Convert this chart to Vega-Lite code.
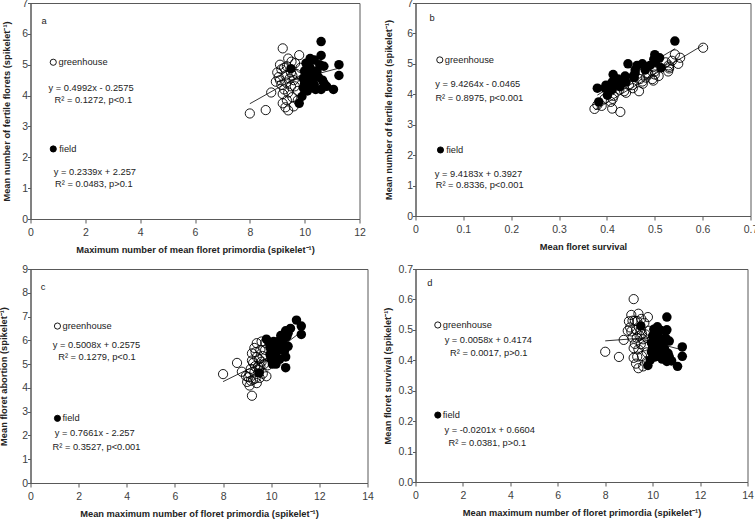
{
  "$schema": "https://vega.github.io/schema/vega-lite/v6.json",
  "padding": {"left": -1.5, "top": -3, "right": 0, "bottom": 0},
  "background": "white",
  "config": {
    "font": "Liberation Sans",
    "view": {"stroke": "#595959", "strokeWidth": 1},
    "axis": {"grid": false, "domainColor": "#595959", "tickColor": "#595959", "tickSize": 4, "labelOverlap": false, "labelFlush": false, "labelBound": false, "labelFont": "Liberation Sans", "labelFontSize": 10.5, "labelColor": "#404040", "titleFont": "Liberation Sans", "titleFontSize": 9.3, "titleFontWeight": "bold", "titleColor": "#222222"},
    "axisX": {"titlePadding": 8, "labelPadding": 4},
    "axisY": {"titlePadding": 10, "labelPadding": 0, "tickSize": 3},
    "text": {"font": "Liberation Sans", "fontSize": 9.3, "fill": "#222222"}
  },
  "datasets": {
    "samples": [
      {"g": "greenhouse", "P": 8.0, "F": 3.42, "A": 4.58, "S": 0.428},
      {"g": "greenhouse", "P": 8.58, "F": 3.53, "A": 5.05, "S": 0.411},
      {"g": "greenhouse", "P": 8.78, "F": 4.1, "A": 4.68, "S": 0.467},
      {"g": "greenhouse", "P": 9.2, "F": 5.53, "A": 3.67, "S": 0.601},
      {"g": "greenhouse", "P": 9.8, "F": 5.31, "A": 4.49, "S": 0.542},
      {"g": "greenhouse", "P": 9.52, "F": 5.1, "A": 4.42, "S": 0.536},
      {"g": "greenhouse", "P": 9.1, "F": 5.0, "A": 4.1, "S": 0.549},
      {"g": "greenhouse", "P": 9.35, "F": 4.95, "A": 4.4, "S": 0.529},
      {"g": "greenhouse", "P": 9.0, "F": 4.75, "A": 4.25, "S": 0.528},
      {"g": "greenhouse", "P": 9.05, "F": 4.6, "A": 4.45, "S": 0.508},
      {"g": "greenhouse", "P": 8.95, "F": 4.45, "A": 4.5, "S": 0.497},
      {"g": "greenhouse", "P": 9.15, "F": 4.85, "A": 4.3, "S": 0.53},
      {"g": "greenhouse", "P": 9.33, "F": 4.42, "A": 4.91, "S": 0.474},
      {"g": "greenhouse", "P": 9.45, "F": 4.55, "A": 4.9, "S": 0.481},
      {"g": "greenhouse", "P": 9.6, "F": 4.5, "A": 5.1, "S": 0.469},
      {"g": "greenhouse", "P": 9.64, "F": 4.3, "A": 5.34, "S": 0.446},
      {"g": "greenhouse", "P": 9.7, "F": 4.7, "A": 5.0, "S": 0.485},
      {"g": "greenhouse", "P": 9.25, "F": 4.2, "A": 5.05, "S": 0.454},
      {"g": "greenhouse", "P": 9.2, "F": 4.05, "A": 5.15, "S": 0.44},
      {"g": "greenhouse", "P": 9.4, "F": 4.1, "A": 5.3, "S": 0.436},
      {"g": "greenhouse", "P": 9.55, "F": 3.95, "A": 5.6, "S": 0.414},
      {"g": "greenhouse", "P": 9.2, "F": 3.75, "A": 5.45, "S": 0.408},
      {"g": "greenhouse", "P": 9.3, "F": 3.62, "A": 5.68, "S": 0.389},
      {"g": "greenhouse", "P": 9.4, "F": 3.52, "A": 5.88, "S": 0.374},
      {"g": "greenhouse", "P": 9.6, "F": 3.65, "A": 5.95, "S": 0.38},
      {"g": "greenhouse", "P": 9.75, "F": 3.85, "A": 5.9, "S": 0.395},
      {"g": "greenhouse", "P": 9.5, "F": 4.75, "A": 4.75, "S": 0.5},
      {"g": "greenhouse", "P": 9.3, "F": 4.65, "A": 4.65, "S": 0.5},
      {"g": "greenhouse", "P": 9.15, "F": 4.35, "A": 4.8, "S": 0.475},
      {"g": "greenhouse", "P": 9.85, "F": 4.9, "A": 4.95, "S": 0.497},
      {"g": "greenhouse", "P": 9.65, "F": 5.05, "A": 4.6, "S": 0.523},
      {"g": "greenhouse", "P": 9.4, "F": 5.2, "A": 4.2, "S": 0.553},
      {"g": "greenhouse", "P": 9.25, "F": 4.9, "A": 4.35, "S": 0.53},
      {"g": "greenhouse", "P": 9.1, "F": 4.5, "A": 4.6, "S": 0.495},
      {"g": "greenhouse", "P": 9.5, "F": 4.3, "A": 5.2, "S": 0.453},
      {"g": "greenhouse", "P": 9.75, "F": 4.15, "A": 5.6, "S": 0.426},
      {"g": "greenhouse", "P": 9.35, "F": 3.85, "A": 5.5, "S": 0.412},
      {"g": "greenhouse", "P": 9.55, "F": 4.65, "A": 4.9, "S": 0.487},
      {"g": "field", "P": 10.6, "F": 5.75, "A": 4.85, "S": 0.542},
      {"g": "field", "P": 10.6, "F": 5.3, "A": 5.3, "S": 0.5},
      {"g": "field", "P": 10.2, "F": 5.2, "A": 5.0, "S": 0.51},
      {"g": "field", "P": 10.35, "F": 5.15, "A": 5.2, "S": 0.498},
      {"g": "field", "P": 10.05, "F": 5.05, "A": 5.0, "S": 0.502},
      {"g": "field", "P": 11.25, "F": 5.0, "A": 6.25, "S": 0.444},
      {"g": "field", "P": 11.25, "F": 4.65, "A": 6.6, "S": 0.413},
      {"g": "field", "P": 11.05, "F": 4.2, "A": 6.85, "S": 0.38},
      {"g": "field", "P": 10.7, "F": 4.95, "A": 5.75, "S": 0.463},
      {"g": "field", "P": 10.65, "F": 4.5, "A": 6.15, "S": 0.423},
      {"g": "field", "P": 10.7, "F": 4.4, "A": 6.3, "S": 0.411},
      {"g": "field", "P": 10.4, "F": 4.2, "A": 6.2, "S": 0.404},
      {"g": "field", "P": 10.1, "F": 4.15, "A": 5.95, "S": 0.411},
      {"g": "field", "P": 9.9, "F": 3.97, "A": 5.93, "S": 0.401},
      {"g": "field", "P": 9.8, "F": 3.75, "A": 6.05, "S": 0.383},
      {"g": "field", "P": 9.5, "F": 4.87, "A": 4.63, "S": 0.513},
      {"g": "field", "P": 10.0, "F": 4.8, "A": 5.2, "S": 0.48},
      {"g": "field", "P": 10.1, "F": 4.6, "A": 5.5, "S": 0.455},
      {"g": "field", "P": 10.2, "F": 4.9, "A": 5.3, "S": 0.48},
      {"g": "field", "P": 10.45, "F": 4.8, "A": 5.65, "S": 0.459},
      {"g": "field", "P": 10.3, "F": 4.5, "A": 5.8, "S": 0.437},
      {"g": "field", "P": 10.0, "F": 4.4, "A": 5.6, "S": 0.44},
      {"g": "field", "P": 9.95, "F": 4.25, "A": 5.7, "S": 0.427},
      {"g": "field", "P": 10.15, "F": 4.35, "A": 5.8, "S": 0.429},
      {"g": "field", "P": 10.5, "F": 4.6, "A": 5.9, "S": 0.438},
      {"g": "field", "P": 10.55, "F": 5.0, "A": 5.55, "S": 0.474},
      {"g": "field", "P": 10.25, "F": 4.7, "A": 5.55, "S": 0.459},
      {"g": "field", "P": 9.95, "F": 4.55, "A": 5.4, "S": 0.457},
      {"g": "field", "P": 10.8, "F": 4.3, "A": 6.5, "S": 0.398},
      {"g": "field", "P": 10.6, "F": 4.2, "A": 6.4, "S": 0.396},
      {"g": "field", "P": 10.1, "F": 4.95, "A": 5.15, "S": 0.49},
      {"g": "field", "P": 10.35, "F": 4.35, "A": 6.0, "S": 0.42}
    ],
    "fits": [
      {"panel": "a", "g": "greenhouse", "P": 8.0, "F": 3.736},
      {"panel": "a", "g": "greenhouse", "P": 9.85, "F": 4.66},
      {"panel": "a", "g": "field", "P": 9.5, "F": 4.479},
      {"panel": "a", "g": "field", "P": 11.25, "F": 4.888},
      {"panel": "b", "g": "greenhouse", "S": 0.3745, "F": 3.484},
      {"panel": "b", "g": "greenhouse", "S": 0.601, "F": 5.619},
      {"panel": "b", "g": "field", "S": 0.38, "F": 3.972},
      {"panel": "b", "g": "field", "S": 0.5425, "F": 5.502},
      {"panel": "c", "g": "greenhouse", "P": 8.0, "A": 4.264},
      {"panel": "c", "g": "greenhouse", "P": 9.85, "A": 5.19},
      {"panel": "c", "g": "field", "P": 9.5, "A": 5.021},
      {"panel": "c", "g": "field", "P": 11.25, "A": 6.362},
      {"panel": "d", "g": "greenhouse", "P": 8.0, "S": 0.4638},
      {"panel": "d", "g": "greenhouse", "P": 9.85, "S": 0.4745},
      {"panel": "d", "g": "field", "P": 9.5, "S": 0.4695},
      {"panel": "d", "g": "field", "P": 11.25, "S": 0.4343}
    ],
    "keys": [
      {"panel": "a", "g": "greenhouse", "P": 0.83, "F": 5.08},
      {"panel": "a", "g": "field", "P": 0.83, "F": 2.27},
      {"panel": "b", "g": "greenhouse", "S": 0.0508, "F": 5.13},
      {"panel": "b", "g": "field", "S": 0.0522, "F": 2.17},
      {"panel": "c", "g": "greenhouse", "P": 1.12, "A": 6.6},
      {"panel": "c", "g": "field", "P": 1.12, "A": 2.72},
      {"panel": "d", "g": "greenhouse", "P": 0.94, "S": 0.516},
      {"panel": "d", "g": "field", "P": 0.94, "S": 0.22}
    ],
    "notes": [
      {"panel": "a", "kind": "left", "P": 0.4, "F": 6.43, "text": "a"},
      {"panel": "a", "kind": "left", "P": 1.02, "F": 5.08, "text": "greenhouse"},
      {"panel": "a", "kind": "left", "P": 1.05, "F": 2.27, "text": "field"},
      {"panel": "a", "kind": "center", "P": 2.21, "F": 4.23, "text": "y = 0.4992x - 0.2575"},
      {"panel": "a", "kind": "center", "P": 2.29, "F": 3.86, "text": "R² = 0.1272, p<0.1"},
      {"panel": "a", "kind": "center", "P": 2.35, "F": 1.53, "text": "y = 0.2339x + 2.257"},
      {"panel": "a", "kind": "center", "P": 2.31, "F": 1.12, "text": "R² = 0.0483, p>0.1"},
      {"panel": "b", "kind": "left", "S": 0.029, "F": 6.51, "text": "b"},
      {"panel": "b", "kind": "left", "S": 0.0613, "F": 5.13, "text": "greenhouse"},
      {"panel": "b", "kind": "left", "S": 0.064, "F": 2.17, "text": "field"},
      {"panel": "b", "kind": "center", "S": 0.13, "F": 4.34, "text": "y = 9.4264x - 0.0465"},
      {"panel": "b", "kind": "center", "S": 0.1334, "F": 3.87, "text": "R² = 0.8975, p<0.001"},
      {"panel": "b", "kind": "center", "S": 0.1317, "F": 1.38, "text": "y = 9.4183x + 0.3927"},
      {"panel": "b", "kind": "center", "S": 0.134, "F": 1.03, "text": "R² = 0.8336, p<0.001"},
      {"panel": "c", "kind": "left", "P": 0.43, "A": 8.25, "text": "c"},
      {"panel": "c", "kind": "left", "P": 1.33, "A": 6.6, "text": "greenhouse"},
      {"panel": "c", "kind": "left", "P": 1.33, "A": 2.72, "text": "field"},
      {"panel": "c", "kind": "center", "P": 2.74, "A": 5.8, "text": "y = 0.5008x + 0.2575"},
      {"panel": "c", "kind": "center", "P": 2.76, "A": 5.31, "text": "R² = 0.1279, p<0.1"},
      {"panel": "c", "kind": "center", "P": 2.67, "A": 2.09, "text": "y = 0.7661x - 2.257"},
      {"panel": "c", "kind": "center", "P": 2.74, "A": 1.53, "text": "R² = 0.3527, p<0.001"},
      {"panel": "d", "kind": "left", "P": 0.5, "S": 0.653, "text": "d"},
      {"panel": "d", "kind": "left", "P": 1.15, "S": 0.516, "text": "greenhouse"},
      {"panel": "d", "kind": "left", "P": 1.15, "S": 0.22, "text": "field"},
      {"panel": "d", "kind": "center", "P": 3.07, "S": 0.4667, "text": "y = 0.0058x + 0.4174"},
      {"panel": "d", "kind": "center", "P": 3.09, "S": 0.423, "text": "R² = 0.0017, p>0.1"},
      {"panel": "d", "kind": "center", "P": 3.13, "S": 0.171, "text": "y = -0.0201x + 0.6604"},
      {"panel": "d", "kind": "center", "P": 3.03, "S": 0.127, "text": "R² = 0.0381, p>0.1"}
    ]
  },
  "columns": 2,
  "spacing": {"column": 8, "row": 7},
  "concat": [
    {
      "width": 329, "height": 216,
      "encoding": {
        "x": {"field": "P", "type": "quantitative", "scale": {"domain": [0, 12]}, "axis": {"values": [0, 2, 4, 6, 8, 10, 12], "tickCount": 7, "labelOverlap": false, "title": "Maximum number of mean floret primordia (spikelet⁻¹)"}},
        "y": {"field": "F", "type": "quantitative", "scale": {"domain": [0, 7]}, "axis": {"values": [0, 1, 2, 3, 4, 5, 6, 7], "tickCount": 8, "labelOverlap": false, "titlePadding": 10, "title": "Mean number of  fertile florets (spikelet⁻¹)"}}
      },
      "layer": [
        {"data": {"name": "samples"}, "transform": [{"filter": "datum.g == 'greenhouse'"}],
         "mark": {"type": "point", "filled": false, "stroke": "black", "strokeWidth": 0.9, "size": 85, "opacity": 1}},
        {"data": {"name": "samples"}, "transform": [{"filter": "datum.g == 'field'"}],
         "mark": {"type": "point", "filled": true, "color": "black", "size": 90, "opacity": 1}},
        {"data": {"name": "fits"}, "transform": [{"filter": "datum.panel == 'a'"}],
         "mark": {"type": "line", "color": "black", "strokeWidth": 0.8},
         "encoding": {"detail": {"field": "g"}}},
        {"data": {"name": "keys"}, "transform": [{"filter": "datum.panel == 'a'"}],
         "mark": {"type": "point", "filled": true, "stroke": "black", "strokeWidth": 0.9, "size": 38, "opacity": 1},
         "encoding": {"fill": {"field": "g", "type": "nominal", "scale": {"domain": ["greenhouse", "field"], "range": ["white", "black"]}, "legend": null}}},
        {"data": {"name": "notes"}, "transform": [{"filter": "datum.panel == 'a' && datum.kind == 'left'"}],
         "mark": {"type": "text", "align": "left", "baseline": "middle"},
         "encoding": {"text": {"field": "text"}}},
        {"data": {"name": "notes"}, "transform": [{"filter": "datum.panel == 'a' && datum.kind == 'center'"}],
         "mark": {"type": "text", "align": "center", "baseline": "middle"},
         "encoding": {"text": {"field": "text"}}}
      ]
    },
    {
      "width": 335, "height": 213,
      "encoding": {
        "x": {"field": "S", "type": "quantitative", "scale": {"domain": [0, 0.7]}, "axis": {"values": [0, 0.1, 0.2, 0.3, 0.4, 0.5, 0.6, 0.7], "tickCount": 8, "labelOverlap": false, "format": ".1~f", "title": "Mean floret survival"}},
        "y": {"field": "F", "type": "quantitative", "scale": {"domain": [0, 7]}, "axis": {"values": [0, 1, 2, 3, 4, 5, 6, 7], "tickCount": 8, "labelOverlap": false, "titlePadding": 13, "title": "Mean number of fertile florets (spikelet⁻¹)"}}
      },
      "layer": [
        {"data": {"name": "samples"}, "transform": [{"filter": "datum.g == 'greenhouse'"}],
         "mark": {"type": "point", "filled": false, "stroke": "black", "strokeWidth": 0.9, "size": 85, "opacity": 1}},
        {"data": {"name": "samples"}, "transform": [{"filter": "datum.g == 'field'"}],
         "mark": {"type": "point", "filled": true, "color": "black", "size": 90, "opacity": 1}},
        {"data": {"name": "fits"}, "transform": [{"filter": "datum.panel == 'b'"}],
         "mark": {"type": "line", "color": "black", "strokeWidth": 0.8},
         "encoding": {"detail": {"field": "g"}}},
        {"data": {"name": "keys"}, "transform": [{"filter": "datum.panel == 'b'"}],
         "mark": {"type": "point", "filled": true, "stroke": "black", "strokeWidth": 0.9, "size": 38, "opacity": 1},
         "encoding": {"fill": {"field": "g", "type": "nominal", "scale": {"domain": ["greenhouse", "field"], "range": ["white", "black"]}, "legend": null}}},
        {"data": {"name": "notes"}, "transform": [{"filter": "datum.panel == 'b' && datum.kind == 'left'"}],
         "mark": {"type": "text", "align": "left", "baseline": "middle"},
         "encoding": {"text": {"field": "text"}}},
        {"data": {"name": "notes"}, "transform": [{"filter": "datum.panel == 'b' && datum.kind == 'center'"}],
         "mark": {"type": "text", "align": "center", "baseline": "middle"},
         "encoding": {"text": {"field": "text"}}}
      ]
    },
    {
      "width": 337, "height": 214,
      "encoding": {
        "x": {"field": "P", "type": "quantitative", "scale": {"domain": [0, 14]}, "axis": {"values": [0, 2, 4, 6, 8, 10, 12, 14], "tickCount": 8, "labelOverlap": false, "title": "Mean maximum number of floret primordia (spikelet⁻¹)"}},
        "y": {"field": "A", "type": "quantitative", "scale": {"domain": [0, 9]}, "axis": {"values": [0, 1, 2, 3, 4, 5, 6, 7, 8, 9], "tickCount": 10, "labelOverlap": false, "titlePadding": 13, "title": "Mean floret abortion (spikelet⁻¹)"}}
      },
      "layer": [
        {"data": {"name": "samples"}, "transform": [{"filter": "datum.g == 'greenhouse'"}],
         "mark": {"type": "point", "filled": false, "stroke": "black", "strokeWidth": 0.9, "size": 85, "opacity": 1}},
        {"data": {"name": "samples"}, "transform": [{"filter": "datum.g == 'field'"}],
         "mark": {"type": "point", "filled": true, "color": "black", "size": 90, "opacity": 1}},
        {"data": {"name": "fits"}, "transform": [{"filter": "datum.panel == 'c'"}],
         "mark": {"type": "line", "color": "black", "strokeWidth": 0.8},
         "encoding": {"detail": {"field": "g"}}},
        {"data": {"name": "keys"}, "transform": [{"filter": "datum.panel == 'c'"}],
         "mark": {"type": "point", "filled": true, "stroke": "black", "strokeWidth": 0.9, "size": 38, "opacity": 1},
         "encoding": {"fill": {"field": "g", "type": "nominal", "scale": {"domain": ["greenhouse", "field"], "range": ["white", "black"]}, "legend": null}}},
        {"data": {"name": "notes"}, "transform": [{"filter": "datum.panel == 'c' && datum.kind == 'left'"}],
         "mark": {"type": "text", "align": "left", "baseline": "middle"},
         "encoding": {"text": {"field": "text"}}},
        {"data": {"name": "notes"}, "transform": [{"filter": "datum.panel == 'c' && datum.kind == 'center'"}],
         "mark": {"type": "text", "align": "center", "baseline": "middle"},
         "encoding": {"text": {"field": "text"}}}
      ]
    },
    {
      "width": 332, "height": 213,
      "encoding": {
        "x": {"field": "P", "type": "quantitative", "scale": {"domain": [0, 14]}, "axis": {"values": [0, 2, 4, 6, 8, 10, 12, 14], "tickCount": 8, "labelOverlap": false, "title": "Mean maximum number of floret primordia (spikelet⁻¹)"}},
        "y": {"field": "S", "type": "quantitative", "scale": {"domain": [0, 0.7]}, "axis": {"values": [0, 0.1, 0.2, 0.3, 0.4, 0.5, 0.6, 0.7], "tickCount": 8, "labelOverlap": false, "format": ".1f", "titlePadding": 5, "title": "Mean floret survival  (spikelet⁻¹)"}}
      },
      "layer": [
        {"data": {"name": "samples"}, "transform": [{"filter": "datum.g == 'greenhouse'"}],
         "mark": {"type": "point", "filled": false, "stroke": "black", "strokeWidth": 0.9, "size": 85, "opacity": 1}},
        {"data": {"name": "samples"}, "transform": [{"filter": "datum.g == 'field'"}],
         "mark": {"type": "point", "filled": true, "color": "black", "size": 90, "opacity": 1}},
        {"data": {"name": "fits"}, "transform": [{"filter": "datum.panel == 'd'"}],
         "mark": {"type": "line", "color": "black", "strokeWidth": 0.8},
         "encoding": {"detail": {"field": "g"}}},
        {"data": {"name": "keys"}, "transform": [{"filter": "datum.panel == 'd'"}],
         "mark": {"type": "point", "filled": true, "stroke": "black", "strokeWidth": 0.9, "size": 38, "opacity": 1},
         "encoding": {"fill": {"field": "g", "type": "nominal", "scale": {"domain": ["greenhouse", "field"], "range": ["white", "black"]}, "legend": null}}},
        {"data": {"name": "notes"}, "transform": [{"filter": "datum.panel == 'd' && datum.kind == 'left'"}],
         "mark": {"type": "text", "align": "left", "baseline": "middle"},
         "encoding": {"text": {"field": "text"}}},
        {"data": {"name": "notes"}, "transform": [{"filter": "datum.panel == 'd' && datum.kind == 'center'"}],
         "mark": {"type": "text", "align": "center", "baseline": "middle"},
         "encoding": {"text": {"field": "text"}}}
      ]
    }
  ]
}
